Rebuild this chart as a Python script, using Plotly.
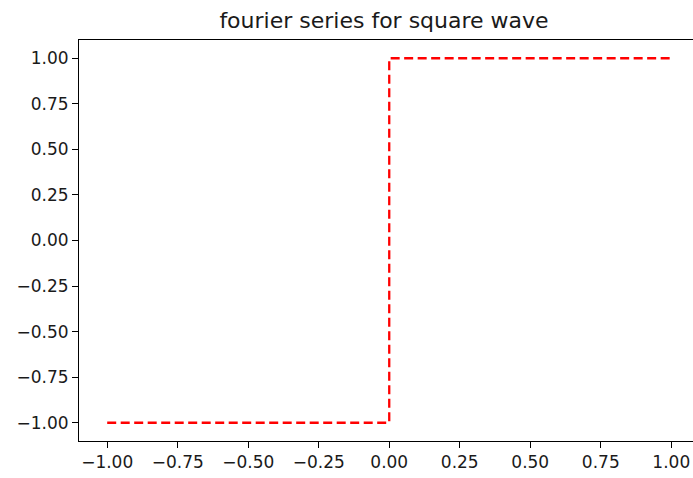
import plotly.graph_objects as go

x_vals = [-1.0, 0.0, 0.0, 1.0]
y_vals = [-1.0, -1.0, 1.0, 1.0]
x_ticks = [-1.0, -0.75, -0.5, -0.25, 0.0, 0.25, 0.5, 0.75, 1.0]
x_ticktext = ["−1.00", "−0.75", "−0.50", "−0.25", "0.00", "0.25", "0.50", "0.75", "1.00"]
y_ticks = [-1.0, -0.75, -0.5, -0.25, 0.0, 0.25, 0.5, 0.75, 1.0]
y_ticktext = ["−1.00", "−0.75", "−0.50", "−0.25", "0.00", "0.25", "0.50", "0.75", "1.00"]
title_text = "fourier series for square wave"

fig = go.Figure()
fig.add_trace(go.Scatter(
    x=x_vals, y=y_vals, mode="lines",
    line=dict(color="#ff0000", width=2.3, dash="9px,4.5px"),
    showlegend=False, hoverinfo="skip",
))

font = dict(family="DejaVu Sans", size=17, color="#1a1a1a")
fig.update_layout(
    width=693, height=478,
    margin=dict(l=79, r=0, t=40, b=37),
    paper_bgcolor="white", plot_bgcolor="white",
    font=font,
    title=dict(text=title_text, x=384 / 693, xanchor="center",
               y=1 - 20 / 478, yanchor="middle",
               font=dict(family="DejaVu Sans", size=22, color="#1a1a1a")),
)
fig.update_xaxes(
    range=[-1.1, 1.077], showgrid=False, zeroline=False,
    showline=True, linecolor="black", linewidth=1, mirror=True,
    ticks="outside", ticklen=6, tickwidth=1, tickcolor="black",
    tickvals=x_ticks, ticktext=x_ticktext, tickfont=font,
)
fig.update_yaxes(
    range=[-1.1, 1.1], showgrid=False, zeroline=False,
    showline=True, linecolor="black", linewidth=1, mirror=False,
    ticks="outside", ticklen=6, tickwidth=1, tickcolor="black",
    tickvals=y_ticks, ticktext=y_ticktext, tickfont=font,
)
fig.write_html(
    "out.html",
    config={"displayModeBar": False},
    post_script="document.body.style.margin='0';document.body.style.overflow='hidden';",
)
